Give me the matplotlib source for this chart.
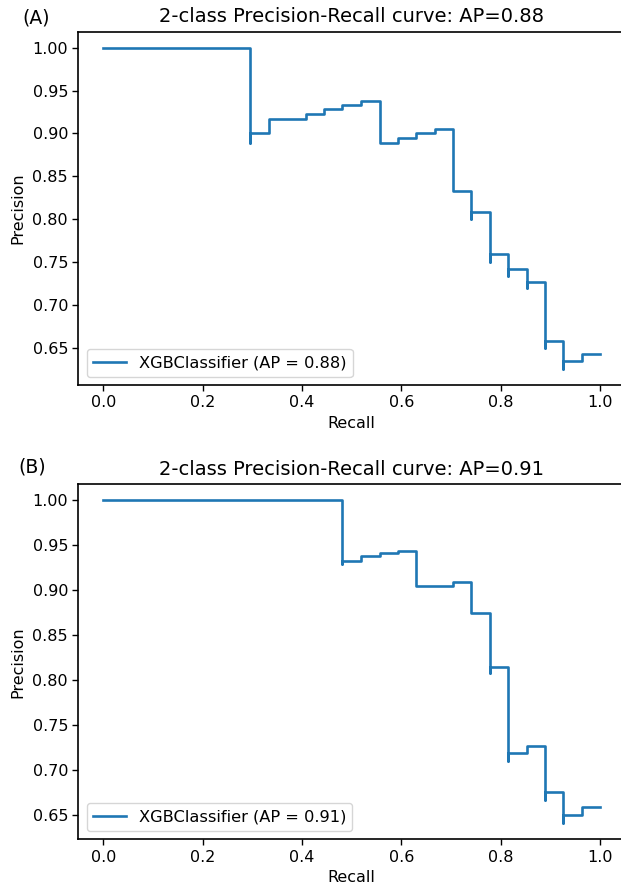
import numpy as np
import matplotlib
matplotlib.use("Agg")
import matplotlib.pyplot as plt

# (A) points along the curve, recall going down from 1 to 0
recall_a = [1.000, 0.963, 0.926, 0.926, 0.889, 0.889, 0.852, 0.852, 0.815, 0.815,
            0.778, 0.778, 0.741, 0.741, 0.704, 0.667, 0.630, 0.593, 0.556, 0.519,
            0.481, 0.444, 0.407, 0.333, 0.296, 0.296, 0.000]
precision_a = [0.643, 0.634, 0.625, 0.658, 0.649, 0.727, 0.719, 0.742, 0.733, 0.759,
               0.750, 0.808, 0.800, 0.833, 0.905, 0.900, 0.895, 0.889, 0.938, 0.933,
               0.929, 0.923, 0.917, 0.900, 0.889, 1.000, 1.000]
ap_a = 0.88

# (B)
recall_b = [1.000, 0.963, 0.926, 0.926, 0.889, 0.889, 0.852, 0.815, 0.815, 0.778,
            0.778, 0.741, 0.704, 0.630, 0.593, 0.556, 0.519, 0.481, 0.481, 0.000]
precision_b = [0.659, 0.650, 0.641, 0.676, 0.667, 0.727, 0.719, 0.710, 0.815, 0.808,
               0.875, 0.909, 0.905, 0.944, 0.941, 0.938, 0.933, 0.929, 1.000, 1.000]
ap_b = 0.91

plt.rcParams['font.family'] = 'DejaVu Sans'
plt.rcParams['font.size'] = 11.5

fig = plt.figure(figsize=(6.21, 8.90), dpi=100)
# the original picture is cut off on the right, so the axes run past the edge
ax1 = fig.add_axes([0.1264, 0.5674, 0.880, 0.397])
ax2 = fig.add_axes([0.1264, 0.0570, 0.880, 0.3989])

panels = [(ax1, recall_a, precision_a, ap_a, '(A)', 0.0365, 0.974),
          (ax2, recall_b, precision_b, ap_b, '(B)', 0.029, 0.469)]

for ax, r, p, ap, tag, tx, ty in panels:
    ax.plot(r, p, drawstyle='steps-post', color='#1f77b4', linewidth=1.9,
            label=f'XGBClassifier (AP = {ap:.2f})')
    ax.set_xlabel('Recall', fontsize=11.5)
    ax.set_ylabel('Precision', fontsize=11.5, labelpad=5)
    ax.set_title(f'2-class Precision-Recall curve: AP={ap:.2f}', fontsize=14, pad=7)
    ax.legend(loc='lower left', fontsize=11.7)
    ax.set_xticks([0.0, 0.2, 0.4, 0.6, 0.8, 1.0])
    ax.set_yticks(np.arange(0.65, 1.001, 0.05))
    ax.yaxis.set_major_formatter(matplotlib.ticker.FormatStrFormatter('%.2f'))
    ax.tick_params(labelsize=11.5, width=1.0, length=4)
    for s in ax.spines.values():
        s.set_linewidth(1.2)
    ax.spines['right'].set_visible(False)
    fig.text(tx, ty, tag, fontsize=13.5, va='baseline')

fig.savefig('out.png', dpi=100)
